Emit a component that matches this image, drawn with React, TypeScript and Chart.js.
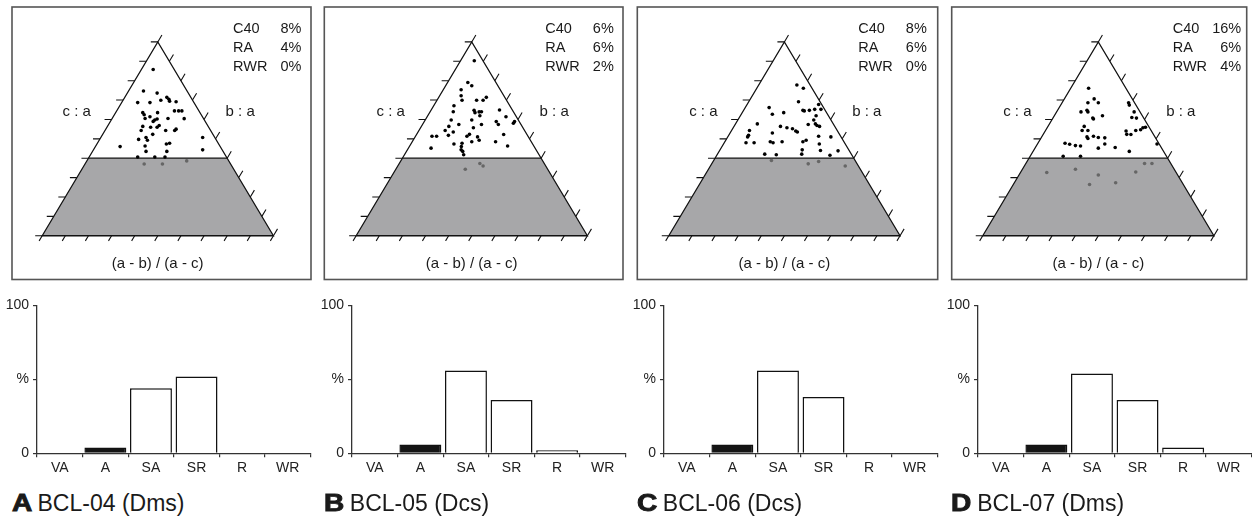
import React, { useEffect, useRef } from "react";
import { Chart, registerables } from "chart.js";
Chart.register(...registerables);

const FONT = '"Liberation Sans", Arial, Helvetica, sans-serif';

// ---------- DATA ----------
const categories = ["VA", "A", "SA", "SR", "R", "WR"];
const yTickValues = [0, 50, 100];
const yTickLabels = ["0", "%", "100"];

const barsA = [0, 4, 44, 52, 0, 0];
const barsB = [0, 6, 56, 36, 2, 0];
const barsC = [0, 6, 56, 38, 0, 0];
const barsD = [0, 6, 54, 36, 4, 0];

const panelLetters = ["A", "B", "C", "D"];
const panelNames = ["BCL-04 (Dms)", "BCL-05 (Dcs)", "BCL-06 (Dcs)", "BCL-07 (Dms)"];

const legendNames = ["C40", "RA", "RWR"];
const c40Values = [8, 6, 8, 16];
const raValues = [4, 6, 6, 6];
const rwrValues = [0, 2, 0, 4];

const ternTicks = [0, 0.1, 0.2, 0.3, 0.4, 0.5, 0.6, 0.7, 0.8, 0.9, 1];
const shadeLimit = 0.4;
const leftAxisLabel = "c : a";
const rightAxisLabel = "b : a";
const bottomAxisLabel = "(a - b) / (a - c)";

// points: [position along base (0..1), c/a (0..1)]
const blackA = [
  [0.480, 0.858], [0.438, 0.747], [0.497, 0.736], [0.413, 0.687], [0.466, 0.687], [0.513, 0.699], [0.539, 0.714], [0.548, 0.704], [0.551, 0.694], [0.579, 0.691],
  [0.435, 0.635], [0.441, 0.624], [0.466, 0.614], [0.499, 0.635], [0.572, 0.644], [0.590, 0.644], [0.604, 0.644], [0.445, 0.605], [0.487, 0.597], [0.497, 0.602],
  [0.480, 0.590], [0.544, 0.605], [0.614, 0.604], [0.435, 0.564], [0.469, 0.560], [0.497, 0.560], [0.506, 0.569], [0.534, 0.543], [0.579, 0.550], [0.573, 0.543],
  [0.428, 0.543], [0.478, 0.523], [0.417, 0.497], [0.449, 0.507], [0.455, 0.493], [0.537, 0.473], [0.551, 0.477], [0.445, 0.463], [0.449, 0.435], [0.539, 0.435],
  [0.337, 0.460], [0.694, 0.507], [0.694, 0.443], [0.413, 0.406], [0.487, 0.406], [0.531, 0.406],
];
const greyA = [[0.441, 0.370], [0.520, 0.370], [0.625, 0.386]];

const blackB = [
  [0.511, 0.903], [0.483, 0.791], [0.500, 0.774], [0.454, 0.753], [0.454, 0.722], [0.458, 0.699], [0.521, 0.699], [0.549, 0.699], [0.563, 0.714], [0.423, 0.671],
  [0.420, 0.640], [0.510, 0.647], [0.514, 0.635], [0.532, 0.639], [0.542, 0.640], [0.535, 0.619], [0.620, 0.649], [0.411, 0.597], [0.500, 0.597], [0.542, 0.574],
  [0.606, 0.589], [0.615, 0.574], [0.648, 0.614], [0.680, 0.580], [0.685, 0.589], [0.401, 0.564], [0.385, 0.543], [0.420, 0.535], [0.444, 0.574], [0.507, 0.557],
  [0.399, 0.518], [0.328, 0.513], [0.348, 0.513], [0.479, 0.513], [0.490, 0.523], [0.525, 0.510], [0.532, 0.493], [0.500, 0.485], [0.638, 0.522], [0.423, 0.473],
  [0.458, 0.477], [0.455, 0.460], [0.454, 0.443], [0.461, 0.435], [0.465, 0.418], [0.603, 0.485], [0.655, 0.463], [0.324, 0.452],
];
const greyB = [[0.472, 0.343], [0.535, 0.373], [0.549, 0.360]];

const blackC = [
  [0.554, 0.778], [0.582, 0.761], [0.561, 0.691], [0.434, 0.661], [0.448, 0.627], [0.497, 0.635], [0.580, 0.647], [0.586, 0.644], [0.608, 0.647], [0.631, 0.652],
  [0.648, 0.677], [0.658, 0.652], [0.627, 0.597], [0.637, 0.619], [0.634, 0.577], [0.641, 0.569], [0.652, 0.564], [0.383, 0.577], [0.349, 0.543], [0.345, 0.518],
  [0.341, 0.510], [0.334, 0.480], [0.369, 0.480], [0.448, 0.530], [0.483, 0.564], [0.511, 0.557], [0.535, 0.552], [0.549, 0.540], [0.556, 0.535], [0.603, 0.574],
  [0.439, 0.485], [0.451, 0.480], [0.490, 0.485], [0.580, 0.485], [0.594, 0.493], [0.648, 0.513], [0.701, 0.510], [0.651, 0.473], [0.656, 0.440], [0.577, 0.443],
  [0.575, 0.421], [0.415, 0.421], [0.465, 0.418], [0.697, 0.415], [0.732, 0.438],
];
const greyC = [[0.444, 0.388], [0.603, 0.371], [0.648, 0.383], [0.763, 0.360]];

const blackD = [
  [0.458, 0.761], [0.455, 0.686], [0.482, 0.706], [0.500, 0.686], [0.451, 0.647], [0.425, 0.639], [0.455, 0.639], [0.476, 0.607], [0.479, 0.602], [0.518, 0.619],
  [0.631, 0.686], [0.634, 0.674], [0.655, 0.639], [0.645, 0.610], [0.665, 0.607], [0.439, 0.564], [0.430, 0.543], [0.455, 0.543], [0.451, 0.510], [0.455, 0.502],
  [0.479, 0.513], [0.500, 0.507], [0.528, 0.505], [0.528, 0.473], [0.500, 0.452], [0.620, 0.540], [0.623, 0.523], [0.641, 0.522], [0.662, 0.543], [0.683, 0.547],
  [0.693, 0.557], [0.704, 0.560], [0.356, 0.477], [0.376, 0.472], [0.401, 0.465], [0.423, 0.463], [0.573, 0.455], [0.634, 0.435], [0.754, 0.473], [0.348, 0.410],
  [0.423, 0.410],
];
const greyD = [[0.277, 0.326], [0.401, 0.343], [0.500, 0.313], [0.462, 0.264], [0.575, 0.273], [0.662, 0.329], [0.700, 0.373], [0.732, 0.373]];

const allBars = [barsA, barsB, barsC, barsD];
const allBlack = [blackA, blackB, blackC, blackD];
const allGrey = [greyA, greyB, greyC, greyD];

// ---------- LAYOUT ----------
const boxLefts = [12, 324.3, 637.3, 951.7];
const boxRights = [311, 623, 937.7, 1246.7];
const boxTop = 7;
const boxBottom = 279.5;
const apexXs = [157.7, 471.7, 784.3, 1098.3];
const apexY = 39;
const baseY = 238.3;
const halfBase = 118.7;
const yAxisXs = [36.7, 351.7, 663.8, 978.3];
const y100 = 305;
const y0 = 453.3;
const plotW = 273.5;

function Ternary({ i }: { i: number }) {
  const ref = useRef<HTMLCanvasElement | null>(null);
  const L = Math.floor(boxLefts[i]) - 4;
  const W = Math.ceil(boxRights[i] - boxLefts[i]) + 9;
  const H = 290;
  useEffect(() => {
    const p0 = apexXs[i] - halfBase - L;
    const p1 = apexXs[i] + halfBase - L;
    const span = p1 - p0;
    const xmin = -p0 / span;
    const xmax = (W - p0) / span;
    const hgt = baseY - apexY;
    const ymax = baseY / hgt;
    const ymin = -(H - baseY) / hgt;
    const plugin = {
      id: "tern" + i,
      beforeDatasetsDraw(chart: any) {
        const ctx = chart.ctx;
        const xs = chart.scales.x;
        const ys = chart.scales.y;
        const P = (x: number, y: number) => [xs.getPixelForValue(x), ys.getPixelForValue(y)];
        ctx.save();
        ctx.strokeStyle = "#555";
        ctx.lineWidth = 1.6;
        ctx.strokeRect(boxLefts[i] - L, boxTop, boxRights[i] - boxLefts[i], boxBottom - boxTop);
        const s = shadeLimit;
        const q = [P(0, 0), P(1, 0), P(1 - s / 2, s), P(s / 2, s)];
        ctx.beginPath();
        ctx.moveTo(q[0][0], q[0][1]);
        for (let k = 1; k < q.length; k++) ctx.lineTo(q[k][0], q[k][1]);
        ctx.closePath();
        ctx.fillStyle = "#a7a7a9";
        ctx.fill();
        const t = [P(0, 0), P(1, 0), P(0.5, 1)];
        ctx.strokeStyle = "#111";
        ctx.lineWidth = 1.3;
        ctx.beginPath();
        ctx.moveTo(t[0][0], t[0][1]);
        ctx.lineTo(t[1][0], t[1][1]);
        ctx.lineTo(t[2][0], t[2][1]);
        ctx.closePath();
        ctx.stroke();
        ctx.beginPath();
        ctx.moveTo(q[3][0], q[3][1]);
        ctx.lineTo(q[2][0], q[2][1]);
        ctx.stroke();
        const dx = t[2][0] - t[0][0];
        const dy = t[2][1] - t[0][1];
        const len = Math.hypot(dx, dy);
        const ux = dx / len;
        const uy = dy / len;
        ctx.lineWidth = 1.1;
        ctx.beginPath();
        for (const v of ternTicks) {
          const [lx, ly] = P(v / 2, v);
          ctx.moveTo(lx, ly);
          ctx.lineTo(lx - 7, ly);
          const [rx, ry] = P(1 - v / 2, v);
          ctx.moveTo(rx, ry);
          ctx.lineTo(rx + ux * 8, ry + uy * 8);
          const [bx, by] = P(v, 0);
          ctx.moveTo(bx, by);
          ctx.lineTo(bx - ux * 6, by - uy * 6);
        }
        ctx.stroke();
        ctx.restore();
      },
      afterDraw(chart: any) {
        const ctx = chart.ctx;
        const ax = apexXs[i] - L;
        ctx.save();
        ctx.fillStyle = "#1a1a1a";
        ctx.font = "15px " + FONT;
        ctx.textBaseline = "alphabetic";
        ctx.textAlign = "center";
        ctx.fillText(leftAxisLabel, ax - 81, 116);
        ctx.fillText(rightAxisLabel, ax + 82.5, 116);
        ctx.fillText(bottomAxisLabel, ax, 267.5);
        ctx.font = "14.5px " + FONT;
        const vals = [c40Values[i], raValues[i], rwrValues[i]];
        const bl = [32.5, 51.5, 70.5];
        const bx = boxLefts[i] - L;
        legendNames.forEach((n, k) => {
          ctx.textAlign = "left";
          ctx.fillText(n, bx + 221, bl[k]);
          ctx.textAlign = "right";
          ctx.fillText(vals[k] + "%", bx + 289.5, bl[k]);
        });
        ctx.restore();
      },
    };
    const chart = new Chart(ref.current as HTMLCanvasElement, {
      type: "scatter",
      data: {
        datasets: [
          {
            data: allBlack[i].map(([x, y]) => ({ x, y })),
            pointRadius: 1.8,
            pointBackgroundColor: "#000",
            pointBorderWidth: 0,
          },
          {
            data: allGrey[i].map(([x, y]) => ({ x, y })),
            pointRadius: 1.8,
            pointBackgroundColor: "#666",
            pointBorderWidth: 0,
          },
        ],
      },
      options: {
        animation: false,
        responsive: false,
        layout: { padding: 0 },
        plugins: { legend: { display: false }, tooltip: { enabled: false } },
        scales: {
          x: { type: "linear", display: false, min: xmin, max: xmax, bounds: "data" },
          y: { type: "linear", display: false, min: ymin, max: ymax, bounds: "data" },
        },
      } as any,
      plugins: [plugin],
    });
    return () => chart.destroy();
  }, [i]);
  return (
    <canvas
      ref={ref}
      width={W}
      height={H}
      style={{ position: "absolute", left: L, top: 0, width: W, height: H }}
    />
  );
}

function Bars({ i }: { i: number }) {
  const ref = useRef<HTMLCanvasElement | null>(null);
  const AXW = 40;
  const L = Math.round(yAxisXs[i] - AXW);
  const padTop = 12;
  const XH = 30;
  const top = y100 - padTop;
  const H = 191;
  const W = AXW + Math.ceil(plotW) + 6;
  useEffect(() => {
    const areaH = y0 - y100;
    const padBottom = H - padTop - areaH - XH;
    const padRight = W - AXW - plotW;
    const values = allBars[i];
    const chart = new Chart(ref.current as HTMLCanvasElement, {
      type: "bar",
      data: {
        labels: categories,
        datasets: [
          {
            data: values,
            backgroundColor: categories.map((c) => (c === "A" ? "#141414" : "#ffffff")),
            borderColor: "#111",
            borderWidth: 1.5,
            barPercentage: 0.92,
            categoryPercentage: 1,
          },
        ],
      },
      options: {
        animation: false,
        responsive: false,
        layout: { padding: { top: padTop, bottom: padBottom, left: 0, right: padRight } },
        plugins: { legend: { display: false }, tooltip: { enabled: false } },
        scales: {
          x: {
            type: "category",
            offset: true,
            grid: { offset: true, drawOnChartArea: false, drawTicks: true, tickLength: 4, color: "#333", lineWidth: 1.2 },
            border: { display: true, color: "#333", width: 1.3 },
            ticks: { font: { family: FONT, size: 14 }, color: "#222", padding: 2, maxRotation: 0, autoSkip: false },
            afterFit: (s: any) => {
              s.height = XH;
            },
          },
          y: {
            type: "linear",
            min: 0,
            max: 100,
            afterBuildTicks: (s: any) => {
              s.ticks = yTickValues.map((v) => ({ value: v }));
            },
            ticks: {
              font: { family: FONT, size: 14 },
              color: "#222",
              padding: 4,
              callback: (v: any) => {
                const k = yTickValues.indexOf(Number(v));
                return k >= 0 ? yTickLabels[k] : "";
              },
            },
            grid: { drawOnChartArea: false, drawTicks: true, tickLength: 4, color: "#333", lineWidth: 1.2 },
            border: { display: true, color: "#333", width: 1.3 },
            afterFit: (s: any) => {
              s.width = AXW;
            },
          },
        },
      } as any,
    });
    return () => chart.destroy();
  }, [i]);
  return (
    <canvas
      ref={ref}
      width={W}
      height={H}
      style={{ position: "absolute", left: L, top, width: W, height: H }}
    />
  );
}

export default function App() {
  return (
    <div
      style={{
        position: "absolute",
        left: 0,
        top: 0,
        width: 1252,
        height: 523,
        background: "#fff",
        overflow: "hidden",
      }}
    >
      {[0, 1, 2, 3].map((i) => (
        <React.Fragment key={i}>
          <Ternary i={i} />
          <Bars i={i} />
          <div
            style={{
              position: "absolute",
              left: boxLefts[i] - 0.5,
              top: 492,
              fontFamily: FONT,
              fontSize: 23,
              lineHeight: "23px",
              color: "#1a1a1a",
              whiteSpace: "nowrap",
            }}
          >
            <span
              style={{
                fontWeight: 900,
                display: "inline-block",
                transform: "scaleX(1.22)",
                transformOrigin: "left center",
                marginRight: 3,
                WebkitTextStroke: "0.9px #1a1a1a",
              }}
            >
              {panelLetters[i]}
            </span>{" "}
            {panelNames[i]}
          </div>
        </React.Fragment>
      ))}
    </div>
  );
}
